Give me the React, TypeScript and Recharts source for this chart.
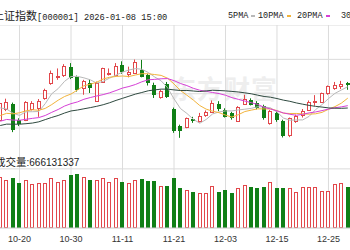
import { ComposedChart, Bar, Line, XAxis, YAxis, CartesianGrid } from 'recharts';

const DATES = [
  '10-15', '10-16', '10-17', '10-20', '10-21', '10-22', '10-23', '10-24', '10-27', '10-28', '10-29', '10-30', '10-31',
  '11-03', '11-04', '11-05', '11-06', '11-07', '11-10', '11-11', '11-12', '11-13', '11-14', '11-17', '11-18', '11-19', '11-20', '11-21', '11-24', '11-25', '11-26', '11-27', '11-28',
  '12-01', '12-02', '12-03', '12-04', '12-05', '12-08', '12-09', '12-10', '12-11', '12-12', '12-15', '12-16', '12-17', '12-18', '12-19', '12-22', '12-23', '12-24', '12-25', '12-26', '12-29', '12-30',
];
const TICK_DATES = ['10-20', '10-30', '11-11', '11-21', '12-03', '12-15', '12-25'];

const OPEN = [3865, 3897, 3909, 3866, 3866, 3897, 3899, 3927, 3968, 3985, 3992, 4014, 3986, 3955, 3970, 3920, 3972, 3994, 3993, 4020, 3995, 3997, 4006, 3992, 3964, 3930, 3965, 3895, 3848, 3845, 3868, 3862, 3880, 3890, 3910, 3894, 3885, 3862, 3910, 3920, 3912, 3904, 3855, 3885, 3862, 3822, 3862, 3878, 3895, 3915, 3915, 3940, 3955, 3960, 3968];
const HIGH = [3916, 3925, 3914, 3870, 3918, 3918, 3924, 3953, 4004, 4010, 4022, 4025, 3990, 3978, 3980, 3973, 4012, 4010, 4025, 4030, 4015, 4035, 4034, 3995, 3970, 3950, 3972, 3900, 3852, 3872, 3874, 3885, 3892, 3920, 3918, 3898, 3888, 3904, 3936, 3926, 3918, 3908, 3893, 3890, 3866, 3872, 3880, 3896, 3920, 3935, 3942, 3962, 3972, 3975, 3972];
const LOW = [3858, 3890, 3831, 3848, 3862, 3892, 3874, 3922, 3964, 3978, 3986, 3980, 3945, 3936, 3941, 3918, 3970, 3990, 3987, 3995, 3985, 3995, 3985, 3962, 3927, 3925, 3927, 3829, 3815, 3842, 3857, 3858, 3874, 3888, 3890, 3872, 3866, 3860, 3908, 3906, 3895, 3866, 3852, 3860, 3816, 3817, 3857, 3872, 3893, 3905, 3913, 3936, 3950, 3952, 3950];
const CLOSE = [3912, 3916, 3839, 3858, 3916, 3913, 3919, 3950, 3996, 3988, 4016, 3986, 3952, 3976, 3960, 3970, 4010, 3998, 4018, 4002, 4000, 4029, 3990, 3972, 3939, 3946, 3931, 3835, 3836, 3870, 3864, 3875, 3888, 3914, 3898, 3878, 3875, 3902, 3924, 3910, 3900, 3873, 3889, 3867, 3824, 3870, 3876, 3890, 3917, 3919, 3940, 3960, 3963, 3965, 3965];

const MA5 = [3899.2, 3895.8, 3884.2, 3878.0, 3888.2, 3888.4, 3889.0, 3911.2, 3938.8, 3953.2, 3973.8, 3987.2, 3987.6, 3983.6, 3978.0, 3968.8, 3973.6, 3982.8, 3991.2, 3999.6, 4005.6, 4009.4, 4007.8, 3998.6, 3986.0, 3975.2, 3955.6, 3924.6, 3897.4, 3883.6, 3867.2, 3856.0, 3866.6, 3882.2, 3887.8, 3890.6, 3890.6, 3893.4, 3895.4, 3897.8, 3902.2, 3901.8, 3899.2, 3887.8, 3870.6, 3864.6, 3865.2, 3865.4, 3875.4, 3894.4, 3908.4, 3925.2, 3939.8, 3949.4, 3958.6];
const MA10 = [3877.5, 3883.8, 3882.4, 3885.4, 3890.8, 3893.8, 3892.4, 3897.7, 3908.4, 3920.7, 3931.1, 3938.1, 3949.4, 3961.2, 3965.6, 3971.3, 3980.4, 3985.2, 3987.4, 3988.8, 3987.2, 3991.5, 3995.3, 3994.9, 3992.8, 3990.4, 3982.5, 3966.2, 3948.0, 3934.8, 3921.2, 3905.8, 3895.6, 3889.8, 3885.7, 3878.9, 3873.3, 3880.0, 3888.8, 3892.8, 3896.4, 3896.2, 3896.3, 3891.6, 3884.2, 3883.4, 3883.5, 3882.3, 3881.6, 3882.5, 3886.5, 3895.2, 3902.6, 3912.4, 3926.5];
const MA20 = [3861.5, 3866.7, 3864.9, 3864.3, 3867.1, 3869.7, 3871.9, 3877.8, 3886.6, 3894.6, 3904.3, 3911.0, 3915.9, 3923.3, 3928.2, 3932.6, 3936.4, 3941.5, 3947.9, 3954.8, 3959.2, 3964.8, 3972.4, 3978.1, 3979.2, 3980.9, 3981.5, 3975.7, 3967.7, 3961.8, 3954.2, 3948.7, 3945.5, 3942.4, 3939.3, 3934.7, 3927.9, 3923.1, 3918.4, 3913.8, 3908.8, 3901.0, 3896.0, 3890.7, 3885.0, 3881.2, 3878.4, 3881.2, 3885.2, 3887.7, 3891.5, 3895.7, 3899.5, 3902.0, 3905.4];
const MA30 = [3849.6, 3853.5, 3853.3, 3853.3, 3854.7, 3856.5, 3860.0, 3866.2, 3872.3, 3877.7, 3884.7, 3890.5, 3893.1, 3896.6, 3899.9, 3903.6, 3908.0, 3913.6, 3920.2, 3926.0, 3931.9, 3937.8, 3942.4, 3947.2, 3949.7, 3951.8, 3951.8, 3949.7, 3947.9, 3948.1, 3946.5, 3945.1, 3946.8, 3948.6, 3948.0, 3946.9, 3945.4, 3943.8, 3941.4, 3938.8, 3934.9, 3931.2, 3929.1, 3925.4, 3920.9, 3917.6, 3913.1, 3909.5, 3906.1, 3903.4, 3901.4, 3899.1, 3898.2, 3897.9, 3898.8];

// volume, millions of shares
const VOLUME = [834, 780, 813, 731, 780, 715, 731, 731, 813, 748, 780, 861, 878, 829, 780, 780, 813, 748, 813, 748, 731, 780, 796, 764, 764, 683, 683, 813, 650, 618, 585, 569, 569, 683, 585, 618, 569, 650, 699, 666, 650, 666, 748, 650, 650, 650, 585, 666, 666, 666, 601, 601, 715, 731, 666];

const MA_SERIES = [
  { key: 'ma5', label: '5PMA', color: '#b9b9b9', x: 228 },
  { key: 'ma10', label: '10PMA', color: '#f2b43c', x: 258 },
  { key: 'ma20', label: '20PMA', color: '#d640d6', x: 297 },
  { key: 'ma30', label: '30PMA', color: '#2f4a40', x: 341 },
];

const UP = '#e2474b';
const DOWN = '#107f16';
const GRID = '#dcdcdc';
const PRICE_LO = 3778;
const PRICE_HI = 4132;
const VOL_MAX = 1250;
const VOL_GRID = [720, 960];
const PRICE_GRID = Array.from({ length: 12 }, (_, k) => PRICE_LO + (k * (PRICE_HI - PRICE_LO)) / 11);

const CJK = '"Noto Sans CJK SC", sans-serif';
const MONO = '"Liberation Mono", monospace';

const data = DATES.map((date, i) => ({
  date,
  open: OPEN[i],
  high: HIGH[i],
  low: LOW[i],
  close: CLOSE[i],
  ma5: MA5[i],
  ma10: MA10[i],
  ma20: MA20[i],
  ma30: MA30[i],
  vol: VOLUME[i],
}));

const Candle = (props: any) => {
  const { x, y, width, height, payload } = props;
  const { open, close, high, low } = payload;
  const span = high - low || 1;
  const yOpen = y + ((high - open) / span) * height;
  const yClose = y + ((high - close) / span) * height;
  const up = close >= open;
  const color = up ? UP : DOWN;
  const left = Math.round(x);
  const mid = left + 1.5;
  const top = Math.round(Math.min(yOpen, yClose)) + 0.5;
  const bodyH = Math.max(Math.round(Math.abs(yOpen - yClose)), 1);
  return (
    <g>
      <line x1={mid} x2={mid} y1={y} y2={y + height} stroke={color} strokeWidth={1} />
      <rect x={left + 0.5} y={top} width={width - 1} height={bodyH} fill={up ? '#fff' : color} stroke={color} strokeWidth={1} />
    </g>
  );
};

const VolumeBar = (props: any) => {
  const { x, y, width, height, payload } = props;
  const up = payload.close >= payload.open;
  const color = up ? UP : DOWN;
  const left = Math.round(x);
  const top = Math.round(y);
  return <rect x={left + 0.5} y={top + 0.5} width={width - 1} height={Math.max(height - 1, 0)} fill={up ? '#fff' : color} stroke={color} strokeWidth={1} />;
};

export default function App() {
  return (
    <div style={{ position: 'fixed', left: 0, top: 0, width: 350, height: 250, overflow: 'hidden', background: '#fff' }}>
      <div style={{ position: 'absolute', left: 170, top: 74, fontFamily: CJK, fontSize: 26, fontWeight: 700, lineHeight: '28px', color: '#eeeeee', letterSpacing: 1, whiteSpace: 'nowrap' }}>东方财富</div>

      <div style={{ position: 'absolute', left: -7, top: 7, lineHeight: '16px', color: '#222', whiteSpace: 'nowrap' }}>
        <span style={{ fontFamily: CJK, fontSize: 11 }}>上证指数</span>
        <span style={{ fontFamily: MONO, fontSize: 8.7 }}>[000001] 2026-01-08 15:00</span>
      </div>

      {MA_SERIES.map((s) => (
        <div key={s.key} style={{ position: 'absolute', left: s.x, top: 8, lineHeight: '16px', fontFamily: MONO, fontSize: 8.5, color: '#222', whiteSpace: 'nowrap', display: 'flex', alignItems: 'center' }}>
          <span>{s.label}</span>
          <span style={{ display: 'inline-block', width: 4, height: 2, marginLeft: 3, background: s.color }} />
        </div>
      ))}

      <div style={{ position: 'absolute', left: -3.5, top: 25 }}>
        <ComposedChart width={354} height={126} data={data} margin={{ top: 0, right: 0, bottom: 0, left: 0 }}>
          <CartesianGrid stroke={GRID} horizontalValues={PRICE_GRID} verticalValues={TICK_DATES} />
          <XAxis dataKey="date" hide interval={0} />
          <YAxis hide domain={[PRICE_LO, PRICE_HI]} allowDataOverflow />
          <Bar dataKey={(d: any) => [d.low, d.high]} barSize={4} shape={<Candle />} isAnimationActive={false} />
          {MA_SERIES.map((s) => (
            <Line key={s.key} type="linear" dataKey={s.key} stroke={s.color} strokeWidth={1} dot={false} activeDot={false} isAnimationActive={false} />
          ))}
        </ComposedChart>
      </div>

      <div style={{ position: 'absolute', left: -5, top: 153, lineHeight: '16px', color: '#222', whiteSpace: 'nowrap', zIndex: 2 }}>
        <span style={{ fontFamily: CJK, fontSize: 10.5 }}>成交量</span>
        <span style={{ fontFamily: '"Liberation Sans", Arial, sans-serif', fontSize: 10 }}>:666131337</span>
      </div>

      <div style={{ position: 'absolute', left: -3.5, top: 151 }}>
        <ComposedChart width={354} height={99} data={data} margin={{ top: 0, right: 0, bottom: 0, left: 0 }}>
          <CartesianGrid stroke={GRID} horizontalValues={VOL_GRID} verticalValues={TICK_DATES} />
          <XAxis
            dataKey="date"
            interval={0}
            height={22}
            tickLine={false}
            axisLine={{ stroke: '#c8c8c8' }}
            tick={{ fontSize: 9, fill: '#333', fontFamily: '"Liberation Sans", Arial, sans-serif' }}
            tickFormatter={(v: string) => (TICK_DATES.includes(v) ? v : '')}
          />
          <YAxis hide domain={[0, VOL_MAX]} allowDataOverflow />
          <Bar dataKey="vol" barSize={4} shape={<VolumeBar />} isAnimationActive={false} />
        </ComposedChart>
      </div>
    </div>
  );
}
